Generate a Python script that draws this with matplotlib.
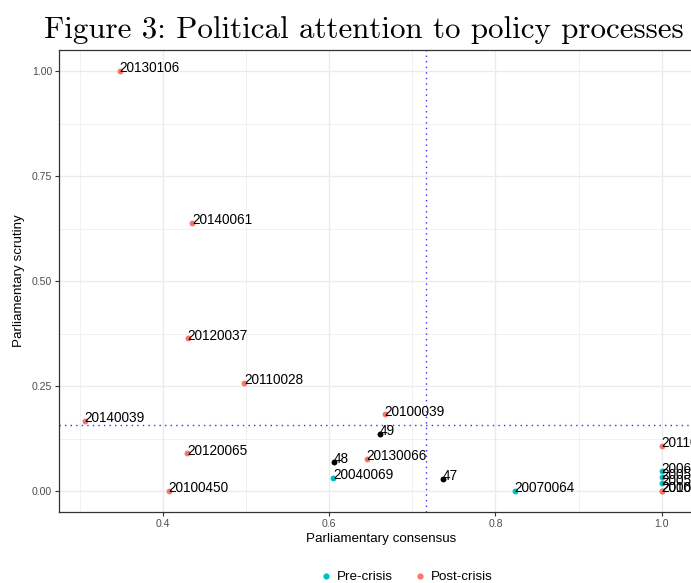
import matplotlib
matplotlib.use("Agg")
import matplotlib.pyplot as plt
from matplotlib.lines import Line2D

# Policy processes: consensus (x), scrutiny (y), crisis period and label
labels = ["20130106", "20140061", "20120037", "20110028", "20140039",
          "20100039", "49", "20120065", "20130066", "48", "20040069",
          "47", "20070064", "20100450", "20110045", "20060012",
          "20050038", "20050016", "20060035", "20100012"]
consensus = [0.348, 0.435, 0.430, 0.498, 0.306,
             0.667, 0.661, 0.429, 0.645, 0.606, 0.605,
             0.737, 0.823, 0.407, 1.000, 1.000,
             1.000, 1.000, 1.000, 1.000]
scrutiny = [1.000, 0.638, 0.364, 0.257, 0.167,
            0.183, 0.136, 0.090, 0.076, 0.069, 0.031,
            0.029, 0.000, 0.000, 0.107, 0.047,
            0.033, 0.018, 0.000, 0.000]
period = ["Post", "Post", "Post", "Post", "Post",
          "Post", None, "Post", "Post", None, "Pre",
          None, "Pre", "Post", "Post", "Pre",
          "Pre", "Pre", "Pre", "Post"]

mean_consensus = 0.716
mean_scrutiny = 0.157

colors = {"Pre": "#00BFC4", "Post": "#F8766D", None: "#000000"}

W, H = 691, 583
fig = plt.figure(figsize=(W / 100, H / 100), dpi=100)
fig.patch.set_facecolor("white")

# panel runs past the right edge of the figure
px_per_unit = 831.7
ax_w = 645
ax = fig.add_axes([59 / W, (H - 512) / H, ax_w / W, 462 / H])
ax.set_xlim(0.2752, 0.2752 + ax_w / px_per_unit)
ax.set_ylim(-0.05, 1.05)

sans = "Liberation Sans"

# grid (theme_bw style)
for v in [0.3, 0.5, 0.7, 0.9]:
    ax.axvline(v, color="#EBEBEB", lw=0.5, zorder=0)
for v in [0.125, 0.375, 0.625, 0.875]:
    ax.axhline(v, color="#EBEBEB", lw=0.5, zorder=0)
for v in [0.4, 0.6, 0.8, 1.0]:
    ax.axvline(v, color="#EBEBEB", lw=1.0, zorder=0)
for v in [0.0, 0.25, 0.5, 0.75, 1.0]:
    ax.axhline(v, color="#EBEBEB", lw=1.0, zorder=0)

for s in ax.spines.values():
    s.set_color("#333333")
    s.set_linewidth(0.9)

ax.axvline(mean_consensus, color="#3030FF", lw=1.0, ls=(0, (1, 3)), zorder=1)
ax.axhline(mean_scrutiny, color="#3030FF", lw=1.0, ls=(0, (1, 3)), zorder=1)

for x, y, p, lab in zip(consensus, scrutiny, period, labels):
    ax.scatter([x], [y], s=18, color=colors[p], zorder=3, linewidths=0)
    ax.annotate(lab, (x, y), xytext=(0, -1), textcoords="offset points",
                ha="left", va="baseline", fontsize=9.8, family=sans,
                color="black", zorder=4, annotation_clip=False)

ax.set_xticks([0.4, 0.6, 0.8, 1.0])
ax.set_xticklabels(["0.4", "0.6", "0.8", "1.0"])
ax.set_yticks([0.0, 0.25, 0.5, 0.75, 1.0])
ax.set_yticklabels(["0.00", "0.25", "0.50", "0.75", "1.00"])
ax.tick_params(axis="both", colors="#333333", length=3, width=0.8,
               labelsize=7.6, labelcolor="#4D4D4D", pad=2)
for t in ax.get_xticklabels() + ax.get_yticklabels():
    t.set_family(sans)

ax.set_xlabel("Parliamentary consensus", fontsize=9.6, family=sans, labelpad=3)
ax.set_ylabel("Parliamentary scrutiny", fontsize=9.6, family=sans, labelpad=5)

handles = [Line2D([], [], ls="", marker="o", ms=4.5, mew=0, color=colors["Pre"]),
           Line2D([], [], ls="", marker="o", ms=4.5, mew=0, color=colors["Post"])]
fig.legend(handles, ["Pre-crisis", "Post-crisis"], loc="center",
           bbox_to_anchor=(406 / W, 1 - 577 / H), ncol=2, frameon=False,
           prop={"family": sans, "size": 9.6}, handletextpad=0.3,
           columnspacing=1.5, handlelength=1.0)

fig.text(44 / W, 1 - 38 / H, "Figure 3: Political attention to policy processes",
         family="cmr10", fontsize=22.3, ha="left", va="baseline")

fig.savefig("out.png", dpi=100, facecolor="white")
